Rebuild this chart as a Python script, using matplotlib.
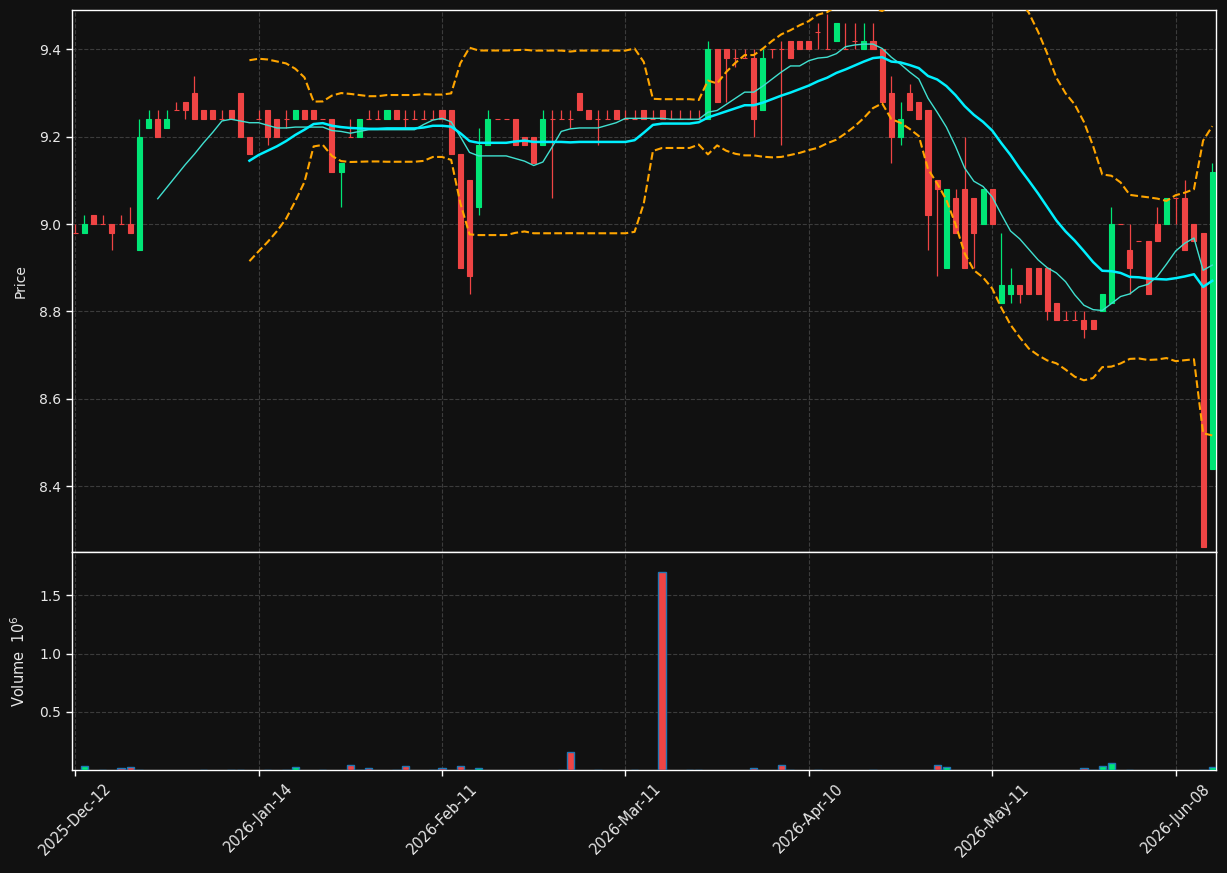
import matplotlib
matplotlib.use('Agg')
import matplotlib.pyplot as plt
import numpy as np
import pandas as pd

# daily bars, trading-day index 0..124
opens = [8.98, 8.98, 9.02, 9.00, 9.00, 9.00, 9.00, 8.94, 9.22, 9.24,
         9.22, 9.26, 9.28, 9.30, 9.26, 9.26, 9.24, 9.26, 9.30, 9.20,
         9.24, 9.26, 9.24, 9.24, 9.24, 9.26, 9.26, 9.24, 9.24, 9.12,
         9.20, 9.20, 9.24, 9.24, 9.24, 9.26, 9.24, 9.24, 9.24, 9.24,
         9.26, 9.26, 9.16, 9.10, 9.04, 9.18, 9.24, 9.24, 9.24, 9.20,
         9.20, 9.18, 9.24, 9.24, 9.24, 9.30, 9.26, 9.24, 9.24, 9.26,
         9.24, 9.24, 9.26, 9.24, 9.26, 9.24, 9.24, 9.24, 9.24, 9.24,
         9.40, 9.40, 9.38, 9.38, 9.38, 9.26, 9.40, 9.40, 9.42, 9.42,
         9.42, 9.44, 9.40, 9.42, 9.40, 9.42, 9.40, 9.42, 9.40, 9.30,
         9.20, 9.30, 9.28, 9.26, 9.10, 8.90, 9.06, 9.08, 9.06, 9.00,
         9.08, 8.82, 8.84, 8.86, 8.90, 8.90, 8.90, 8.82, 8.78, 8.78,
         8.78, 8.78, 8.80, 8.82, 9.00, 8.94, 8.96, 8.96, 9.00, 9.00,
         9.06, 9.06, 9.00, 8.98, 8.44]
highs = [9.00, 9.02, 9.02, 9.02, 9.00, 9.02, 9.04, 9.24, 9.26, 9.26,
         9.26, 9.28, 9.28, 9.34, 9.26, 9.26, 9.26, 9.26, 9.30, 9.20,
         9.26, 9.26, 9.24, 9.26, 9.26, 9.26, 9.26, 9.24, 9.24, 9.14,
         9.24, 9.24, 9.26, 9.26, 9.26, 9.26, 9.26, 9.26, 9.26, 9.26,
         9.26, 9.26, 9.16, 9.10, 9.22, 9.26, 9.24, 9.24, 9.24, 9.20,
         9.20, 9.26, 9.26, 9.26, 9.26, 9.30, 9.26, 9.26, 9.26, 9.26,
         9.26, 9.26, 9.26, 9.26, 9.26, 9.26, 9.26, 9.26, 9.26, 9.42,
         9.40, 9.40, 9.40, 9.40, 9.40, 9.40, 9.40, 9.42, 9.42, 9.42,
         9.42, 9.46, 9.48, 9.46, 9.46, 9.46, 9.46, 9.46, 9.40, 9.34,
         9.28, 9.32, 9.28, 9.26, 9.10, 9.08, 9.08, 9.20, 9.06, 9.08,
         9.08, 8.98, 8.90, 8.86, 8.90, 8.90, 8.90, 8.82, 8.80, 8.80,
         8.80, 8.78, 8.84, 9.04, 9.00, 9.00, 8.96, 8.96, 9.04, 9.06,
         9.06, 9.10, 9.00, 8.98, 9.14]
lows = [8.98, 8.98, 9.00, 9.00, 8.94, 9.00, 8.98, 8.94, 9.22, 9.20,
        9.22, 9.26, 9.24, 9.24, 9.24, 9.24, 9.24, 9.24, 9.20, 9.16,
        9.24, 9.18, 9.20, 9.22, 9.24, 9.24, 9.24, 9.24, 9.12, 9.04,
        9.20, 9.20, 9.24, 9.24, 9.24, 9.24, 9.22, 9.24, 9.24, 9.24,
        9.24, 9.16, 8.90, 8.84, 9.02, 9.18, 9.24, 9.24, 9.18, 9.18,
        9.14, 9.18, 9.06, 9.24, 9.22, 9.26, 9.24, 9.18, 9.24, 9.24,
        9.24, 9.24, 9.24, 9.24, 9.24, 9.24, 9.24, 9.24, 9.24, 9.24,
        9.28, 9.28, 9.36, 9.38, 9.20, 9.26, 9.38, 9.18, 9.38, 9.40,
        9.40, 9.40, 9.40, 9.42, 9.40, 9.40, 9.40, 9.40, 9.28, 9.14,
        9.18, 9.26, 9.24, 8.94, 8.88, 8.90, 8.98, 8.90, 8.90, 9.00,
        9.00, 8.82, 8.82, 8.82, 8.84, 8.84, 8.78, 8.78, 8.78, 8.78,
        8.74, 8.76, 8.80, 8.82, 9.00, 8.84, 8.96, 8.84, 8.96, 9.00,
        9.00, 8.94, 8.96, 8.26, 8.44]
closes = [8.98, 9.00, 9.00, 9.00, 8.98, 9.00, 8.98, 9.20, 9.24, 9.20,
          9.24, 9.26, 9.26, 9.24, 9.24, 9.24, 9.24, 9.24, 9.20, 9.16,
          9.24, 9.20, 9.20, 9.24, 9.26, 9.24, 9.24, 9.24, 9.12, 9.14,
          9.20, 9.24, 9.24, 9.24, 9.26, 9.24, 9.24, 9.24, 9.24, 9.24,
          9.24, 9.16, 8.90, 8.88, 9.18, 9.24, 9.24, 9.24, 9.18, 9.18,
          9.14, 9.24, 9.24, 9.24, 9.24, 9.26, 9.24, 9.24, 9.24, 9.24,
          9.24, 9.24, 9.24, 9.24, 9.24, 9.24, 9.24, 9.24, 9.24, 9.40,
          9.28, 9.38, 9.38, 9.38, 9.24, 9.38, 9.40, 9.40, 9.38, 9.40,
          9.40, 9.44, 9.40, 9.46, 9.40, 9.42, 9.42, 9.40, 9.28, 9.20,
          9.24, 9.26, 9.24, 9.02, 9.08, 9.08, 8.98, 8.90, 8.98, 9.08,
          9.00, 8.86, 8.86, 8.84, 8.84, 8.84, 8.80, 8.78, 8.78, 8.78,
          8.76, 8.76, 8.84, 9.00, 9.00, 8.90, 8.96, 8.84, 8.96, 9.06,
          9.06, 8.94, 8.96, 8.26, 9.12]
# volume in millions
volumes = [0, 0.034, 0, 0.004, 0, 0.017, 0.026, 0.004, 0, 0,
           0, 0, 0, 0, 0.004, 0, 0, 0.004, 0.004, 0,
           0, 0.004, 0, 0.004, 0.026, 0, 0, 0.004, 0, 0,
           0.043, 0.004, 0.017, 0, 0, 0.004, 0.034, 0, 0, 0.004,
           0.017, 0, 0.034, 0, 0.017, 0, 0, 0, 0, 0,
           0, 0, 0, 0.004, 0.155, 0, 0, 0.004, 0, 0,
           0, 0.004, 0, 0, 1.70, 0, 0, 0.004, 0.004, 0,
           0, 0, 0, 0, 0.017, 0, 0, 0.043, 0.004, 0,
           0, 0.004, 0, 0, 0, 0, 0, 0.004, 0, 0,
           0, 0, 0, 0, 0.043, 0.026, 0, 0, 0, 0,
           0, 0, 0, 0, 0, 0, 0, 0, 0, 0,
           0.017, 0.004, 0.034, 0.060, 0, 0.004, 0, 0, 0, 0,
           0, 0, 0, 0.004, 0.026]

tick_pos = [0, 20, 40, 60, 80, 100, 120]
tick_labels = ['2025-Dec-12', '2026-Jan-14', '2026-Feb-11', '2026-Mar-11',
               '2026-Apr-10', '2026-May-11', '2026-Jun-08']

bg = '#111111'
up = '#00e676'
down = '#ef4444'
txt = '#e8e8e8'

df = pd.DataFrame({'o': opens, 'h': highs, 'l': lows, 'c': closes, 'v': volumes})
x = np.arange(len(df))
ma10 = df.c.rolling(10).mean()
ma20 = df.c.rolling(20).mean()
sd20 = df.c.rolling(20).std(ddof=0)
bb_up = ma20 + 2 * sd20
bb_lo = ma20 - 2 * sd20

is_up = df.c > df.o
cols = np.where(is_up, up, down)

fig = plt.figure(figsize=(12.27, 8.73), dpi=100, facecolor=bg)
ax = fig.add_axes([0.0583, 0.3677, 0.9327, 0.6208], facecolor=bg)
axv = fig.add_axes([0.0583, 0.1176, 0.9327, 0.2501], facecolor=bg, sharex=ax)

# candles
ax.vlines(x, df.l, df.h, colors=cols, linewidth=0.9, zorder=2)
ax.bar(x, (df.c - df.o).abs(), bottom=np.minimum(df.o, df.c), width=0.55,
       color=cols, edgecolor=cols, linewidth=0.8, zorder=3)

ax.plot(x, ma10, color='#40e0d0', linewidth=1.0, zorder=4)
ax.plot(x, ma20, color='#00f0ff', linewidth=1.8, zorder=4)
ax.plot(x, bb_up, color='orange', linestyle='--', linewidth=1.5, zorder=4)
ax.plot(x, bb_lo, color='orange', linestyle='--', linewidth=1.5, zorder=4)

ax.set_ylim(8.249, 9.49)
ax.set_yticks([8.4, 8.6, 8.8, 9.0, 9.2, 9.4])
ax.set_ylabel('Price', color=txt, fontsize=10)
ax.yaxis.set_label_coords(-0.038, 0.5)

# volume
nz = df.v > 0
axv.bar(x[nz], df.v[nz], width=0.8, color=cols[nz], edgecolor='#1f77b4',
        linewidth=1.0, zorder=3)
axv.set_ylim(0, 1.87)
axv.set_yticks([0.5, 1.0, 1.5])
axv.set_ylabel('Volume  $10^{6}$', color=txt, fontsize=10.5)
axv.yaxis.set_label_coords(-0.038, 0.5)

axv.set_xlim(-0.4, 124.4)
axv.set_xticks(tick_pos)
axv.set_xticklabels(tick_labels, rotation=45, ha='center', fontsize=10.5)
plt.setp(ax.get_xticklabels(), visible=False)

for a in (ax, axv):
    a.grid(True, linestyle='--', color='#3c3c3c', linewidth=0.8)
    a.set_axisbelow(True)
    for s in a.spines.values():
        s.set_color('white')
        s.set_linewidth(1.0)
    a.tick_params(colors=txt, length=4, width=1)
    a.tick_params(axis='y', labelsize=10)
    a.tick_params(axis='both', color='white')
ax.tick_params(axis='x', length=0)

plt.savefig('out.png', dpi=100, facecolor=bg)
